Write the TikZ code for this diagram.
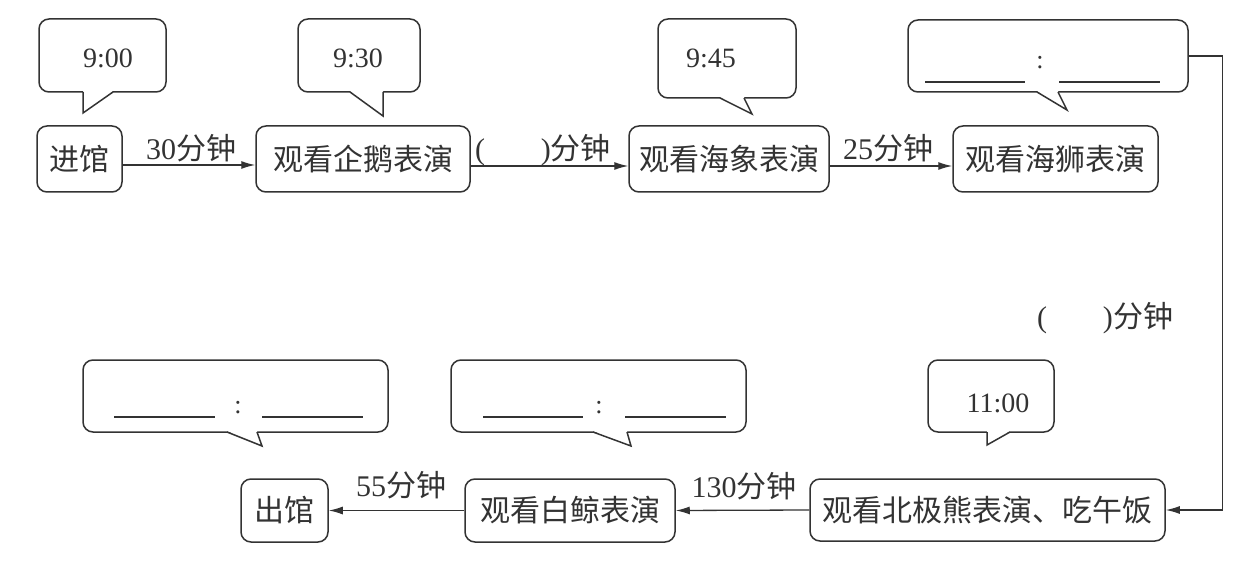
\documentclass[tikz,border=0pt]{standalone}
\usepackage{fontspec}
\setmainfont{Liberation Serif}
\newfontfamily\cjk{Noto Sans CJK SC}
\usetikzlibrary{arrows.meta,calc}
\definecolor{ink}{HTML}{333333}
\newcommand{\cj}[1]{{\cjk #1}}
\begin{document}
\begin{tikzpicture}[x=1pt,y=-1pt,
 box/.style={draw=ink, line width=1.5pt, rounded corners=10pt, inner sep=0pt, text=ink, font=\cjk\fontsize{30}{30}\selectfont},
 bubble/.style={draw=ink, line width=1.5pt, rounded corners=10pt, inner sep=0pt, text=ink, font=\fontsize{28}{28}\selectfont},
 lbl/.style={text=ink, inner sep=0pt, font=\fontsize{30}{30}\selectfont},
 arr/.style={draw=ink, line width=1.3pt, -{Latex[length=14pt,width=8pt]}},
 blank/.style={draw=ink, line width=1.5pt},
 tailline/.style={draw=ink, line width=1.5pt, line join=miter}
]
\fill[white] (0,0) rectangle (1248,572);
\useasboundingbox (0,0) rectangle (1248,572);

% process boxes
\node[box, minimum width=85pt, minimum height=66pt] (jin) at (79.5,159) {进馆};
\node[box, minimum width=214pt, minimum height=66pt] (qie) at (363,159) {观看企鹅表演};
\node[box, minimum width=200pt, minimum height=66pt] (xiang) at (729,159) {观看海象表演};
\node[box, minimum width=205pt, minimum height=66pt] (shi) at (1055.5,159) {观看海狮表演};
\node[box, minimum width=355pt, minimum height=62pt] (bei) at (987.5,510) {观看北极熊表演、吃午饭};
\node[box, minimum width=210pt, minimum height=63pt] (jing) at (570,510.5) {观看白鲸表演};
\node[box, minimum width=87pt, minimum height=63pt] (chu) at (284.5,510.5) {出馆};

% arrows
\draw[arr] ($(jin.east)+(0,6)$) -- ($(qie.west)+(0,6)$);
\draw[arr] ($(qie.east)+(0,7)$) -- ($(xiang.west)+(0,7)$);
\draw[arr] ($(xiang.east)+(0,7)$) -- ($(shi.west)+(0,7)$);
\draw[arr] (bei.west) -- (jing.west -| jing.east);
\draw[arr] (jing.west) -- (chu.east);

% arrow labels
\node[lbl] (l1) at (191,148) {30\cj{分钟}};
\node[lbl] (l2) at (543,150) {(\hspace{56pt})\cj{分钟}};
\node[lbl] (l3) at (888,148) {25\cj{分钟}};
\node[lbl] (l4) at (1105,318) {(\hspace{56pt})\cj{分钟}};
\node[lbl] (l5) at (744,486) {130\cj{分钟}};
\node[lbl] (l6) at (401,485) {55\cj{分钟}};

% callouts
\node[bubble, minimum width=127pt, minimum height=73pt] (c1) at (102.5,55.5) {};
\node[bubble, minimum width=122pt, minimum height=73pt] (c2) at (359,55.5) {};
\node[bubble, minimum width=138pt, minimum height=79pt] (c3) at (727,58.5) {};
\node[bubble, minimum width=280pt, minimum height=72pt] (c4) at (1048,56) {};
\node[bubble, minimum width=126pt, minimum height=72pt] (c5) at (991,396) {};
\node[bubble, minimum width=305pt, minimum height=72pt] (c6) at (235.5,396) {};
\node[bubble, minimum width=295pt, minimum height=72pt] (c7) at (598.5,396) {};

% tails
\fill[white] (83,91) -- (83,113) -- (113,91) -- cycle;
\draw[tailline] (83,92) -- (83,113) -- (113,92);
\fill[white] (350,91) -- (383,116) -- (383,91) -- cycle;
\draw[tailline] (350,92) -- (383,116) -- (383,92);
\fill[white] (720,97) -- (752,114) -- (744,97) -- cycle;
\draw[tailline] (720,98) -- (752,114) -- (744,98);
\fill[white] (1037,91) -- (1067,110) -- (1058,91) -- cycle;
\draw[tailline] (1037,92) -- (1067,110) -- (1058,92);
\fill[white] (987,431) -- (987,445) -- (1010,431) -- cycle;
\draw[tailline] (987,432) -- (987,445) -- (1010,432);
\fill[white] (227,431) -- (262,446) -- (257,431) -- cycle;
\draw[tailline] (227,432) -- (262,446) -- (257,432);
\fill[white] (593,431) -- (631,446) -- (627,431) -- cycle;
\draw[tailline] (593,432) -- (631,446) -- (627,432);

% callout texts
\node[lbl, font=\fontsize{28}{28}\selectfont] (t1) at (108,58) {9:00};
\node[lbl, font=\fontsize{28}{28}\selectfont] (t2) at (358,58) {9:30};
\node[lbl, font=\fontsize{28}{28}\selectfont] (t3) at (711,58) {9:45};
\node[lbl, font=\fontsize{28}{28}\selectfont] (t5) at (998,403) {11:00};
\node[lbl, font=\fontsize{26}{26}\selectfont] (k4) at (1040,63) {:};
\node[lbl, font=\fontsize{26}{26}\selectfont] (k6) at (238,408) {:};
\node[lbl, font=\fontsize{26}{26}\selectfont] (k7) at (599,408) {:};
\draw[blank] (925,82) -- (1025,82);
\draw[blank] (1059,82) -- (1160,82);
\draw[blank] (114,417) -- (215,417);
\draw[blank] (262,417) -- (363,417);
\draw[blank] (483,417) -- (583,417);
\draw[blank] (625,417) -- (726,417);

% long connector
\draw[arr] (c4.east) -- ++(34,0) |- (bei.east);
\end{tikzpicture}
\end{document}
